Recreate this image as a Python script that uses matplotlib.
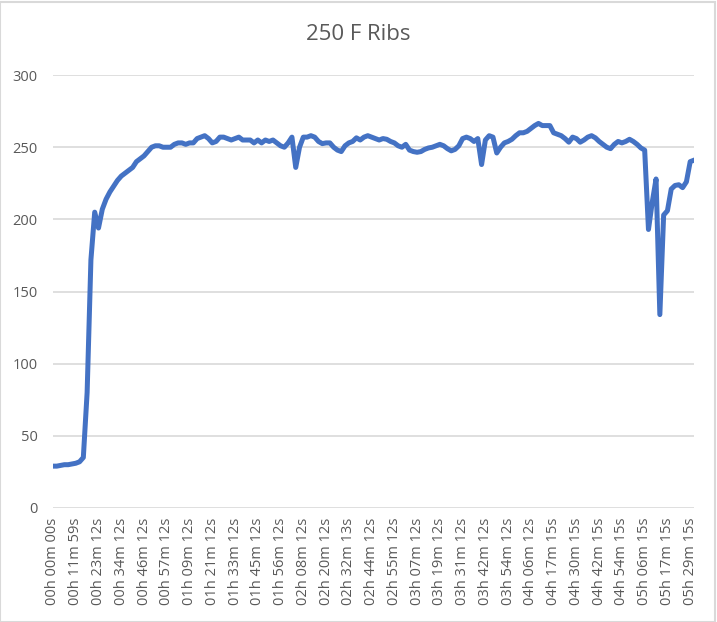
import numpy as np
import matplotlib.pyplot as plt

# etiquetas del eje x (una cada 6 lecturas)
tick_labels = ["00h 00m 00s", "00h 11m 59s", "00h 23m 12s", "00h 34m 12s", "00h 46m 12s",
               "00h 57m 12s", "01h 09m 12s", "01h 21m 12s", "01h 33m 12s", "01h 45m 12s",
               "01h 56m 12s", "02h 08m 12s", "02h 20m 12s", "02h 32m 13s", "02h 44m 12s",
               "02h 55m 12s", "03h 07m 12s", "03h 19m 12s", "03h 31m 12s", "03h 42m 12s",
               "03h 54m 12s", "04h 06m 12s", "04h 17m 15s", "04h 30m 15s", "04h 42m 15s",
               "04h 54m 15s", "05h 06m 15s", "05h 17m 15s", "05h 29m 15s"]
per_label = 6  # lecturas entre etiquetas

# temperaturas
temps = [29, 29, 29.5, 30, 30, 30.5,
         31, 32, 35, 80, 172, 205,
         194, 207, 214, 219, 223, 227,
         230, 232, 234, 236, 240, 242,
         244, 247, 250, 251, 251, 250,
         250, 250, 252, 253, 253, 252,
         253, 253, 256, 257, 258, 256,
         253, 254, 257, 257, 256, 255,
         256, 257, 255, 255, 255, 253,
         255, 253, 255, 254, 255, 253,
         251, 250, 253, 257, 236, 250,
         257, 257, 258, 257, 254, 252.5,
         253, 253, 250, 248, 247, 251,
         253, 254, 256.5, 255, 257, 258,
         257, 256, 255, 256, 255.5, 254,
         253, 251, 250, 252, 248, 247,
         246.5, 247, 248.5, 249.5, 250, 251,
         252, 251, 249, 247.5, 248.5, 251,
         256, 257, 256, 254, 256, 238,
         255, 258, 257, 246, 250, 253,
         254, 255.5, 258, 260, 260, 261,
         263, 265, 266.5, 265, 265, 265,
         260, 259, 258, 256, 253.5, 257,
         256, 253.5, 255, 257, 258, 256.5,
         254, 252, 250, 249, 252, 254,
         253, 254, 255.5, 254, 252, 249.5,
         248, 193, 212, 228, 134, 203,
         206, 221, 223.5, 224, 222, 226,
         240, 241]

x = np.arange(len(temps)) / per_label

gris = "#595959"
plt.rcParams['font.family'] = ['Open Sans', 'DejaVu Sans']

fig = plt.figure(figsize=(7.17, 6.22), dpi=100)
ax = fig.add_axes([0.0739, 0.1833, 0.894, 0.696])

ax.plot(x, temps, color="#4472C4", linewidth=3.6, solid_joinstyle="round", zorder=3)

ax.set_xlim(0, x[-1])
ax.set_ylim(0, 300)
ax.set_yticks(range(0, 301, 50))
ax.set_xticks(range(len(tick_labels)))
ax.set_xticklabels(tick_labels, rotation=90)
ax.tick_params(axis="both", length=0, colors=gris, labelsize=10.5)
ax.tick_params(axis="y", pad=11)
ax.tick_params(axis="x", pad=7)
ax.grid(axis="y", color="#d9d9d9", linewidth=1.2)
for s in ax.spines.values():
    s.set_visible(False)

fig.text(0.5, 0.945, "250 F Ribs", ha="center", va="center", fontsize=16, color=gris)

# borde del area del grafico
fig.patches.append(plt.Rectangle((0.0, 0.0), 0.997, 0.997, transform=fig.transFigure,
                                 fill=False, edgecolor="#d9d9d9", linewidth=1.5))

fig.savefig("out.png", dpi=100)
